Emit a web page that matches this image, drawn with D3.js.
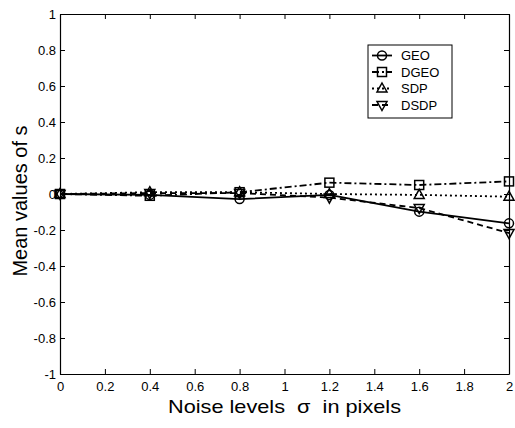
<!DOCTYPE html>
<html>
<head>
<meta charset="utf-8">
<script src="https://cdn.jsdelivr.net/npm/d3@7"></script>
<style>
  body { margin: 0; background: #fff; }
  svg text { font-family: "Liberation Sans", Arial, sans-serif; fill: #000; }
</style>
</head>
<body>
<svg id="chart" width="515" height="428"></svg>
<script>
// noise levels (x)
const noise = [0, 0.4, 0.8, 1.2, 1.6, 2]

// mean values of s per method
const geo  = [0, -0.005, -0.028, -0.005, -0.098, -0.163]
const dgeo = [0, -0.01, 0.01, 0.063, 0.05, 0.07]
const sdp  = [0, 0.01, 0.01, 0, -0.005, -0.015]
const dsdp = [0, 0.005, 0.005, -0.02, -0.078, -0.217]

const xTicks = [0, 0.2, 0.4, 0.6, 0.8, 1, 1.2, 1.4, 1.6, 1.8, 2]
const yTicks = [-1, -0.8, -0.6, -0.4, -0.2, 0, 0.2, 0.4, 0.6, 0.8, 1]

const series = [
    { name: 'GEO', values: geo, dash: null, marker: 'circle' },
    { name: 'DGEO', values: dgeo, dash: '7,3,2,3', marker: 'square' },
    { name: 'SDP', values: sdp, dash: '2,3', marker: 'up' },
    { name: 'DSDP', values: dsdp, dash: '6,4', marker: 'down' },
]

const margin = { top: 14, right: 6, bottom: 54, left: 60 }
const width = 515, height = 428
const w = width - margin.left - margin.right
const h = height - margin.top - margin.bottom

const svg = d3.select('#chart')
const g = svg.append('g').attr('transform', `translate(${margin.left},${margin.top})`)

const x = d3.scaleLinear().domain([0, 2]).range([0, w])
const y = d3.scaleLinear().domain([-1, 1]).range([h, 0])

const fmt = d => String(d)

// axes with inward ticks, box on all sides
const tl = 5
g.append('g').attr('transform', `translate(0,${h})`)
    .call(d3.axisBottom(x).tickValues(xTicks).tickFormat(fmt).tickSizeInner(-tl).tickSizeOuter(0).tickPadding(8))
g.append('g')
    .call(d3.axisTop(x).tickValues(xTicks).tickFormat('').tickSizeInner(-tl).tickSizeOuter(0))
g.append('g')
    .call(d3.axisLeft(y).tickValues(yTicks).tickFormat(fmt).tickSizeInner(-tl).tickSizeOuter(0).tickPadding(4))
g.append('g').attr('transform', `translate(${w},0)`)
    .call(d3.axisRight(y).tickValues(yTicks).tickFormat('').tickSizeInner(-tl).tickSizeOuter(0))

g.selectAll('.domain').attr('stroke', '#000').attr('stroke-width', 1.2)
g.selectAll('.tick line').attr('stroke', '#000')
g.selectAll('.tick text').attr('font-size', 13).attr('fill', '#000')

// marker drawing
function drawMarker(sel, type, cx, cy) {
    const s = 4.5
    if (type === 'circle') {
        sel.append('circle').attr('cx', cx).attr('cy', cy).attr('r', s)
    } else if (type === 'square') {
        sel.append('rect').attr('x', cx - s).attr('y', cy - s).attr('width', 2 * s).attr('height', 2 * s)
    } else if (type === 'up') {
        sel.append('path').attr('d', `M${cx},${cy - s - 1}L${cx + s + 0.5},${cy + s - 1}L${cx - s - 0.5},${cy + s - 1}Z`)
    } else {
        sel.append('path').attr('d', `M${cx},${cy + s + 1}L${cx + s + 0.5},${cy - s + 1}L${cx - s - 0.5},${cy - s + 1}Z`)
    }
}

const line = d3.line().x((d, i) => x(noise[i])).y(d => y(d))

series.forEach(s => {
    g.append('path')
        .datum(s.values)
        .attr('d', line)
        .attr('fill', 'none')
        .attr('stroke', '#000')
        .attr('stroke-width', 1.8)
        .attr('stroke-dasharray', s.dash)
    const mg = g.append('g').attr('fill', 'none').attr('stroke', '#000').attr('stroke-width', 1.5)
    s.values.forEach((v, i) => drawMarker(mg, s.marker, x(noise[i]), y(v)))
})

// legend
const lg = svg.append('g').attr('transform', 'translate(368,45)')
lg.append('rect').attr('width', 84).attr('height', 73)
    .attr('fill', '#fff').attr('stroke', '#000').attr('stroke-width', 1)
series.forEach((s, i) => {
    const yy = 10.5 + i * 16.5
    lg.append('line').attr('x1', 4).attr('x2', 24).attr('y1', yy).attr('y2', yy)
        .attr('stroke', '#000').attr('stroke-width', 1.8).attr('stroke-dasharray', s.dash)
    const mg = lg.append('g').attr('fill', 'none').attr('stroke', '#000').attr('stroke-width', 1.5)
    drawMarker(mg, s.marker, 14, yy)
    lg.append('text').attr('x', 33).attr('y', yy).attr('dy', '0.35em')
        .attr('font-size', 13).text(s.name)
})

// axis titles
svg.append('text')
    .attr('x', 168).attr('y', 413)
    .attr('font-size', 19)
    .attr('textLength', 233).attr('lengthAdjust', 'spacingAndGlyphs')
    .style('white-space', 'pre')
    .text('Noise levels  σ  in pixels')

svg.append('text')
    .attr('transform', `translate(27,201) rotate(-90)`)
    .attr('text-anchor', 'middle').attr('font-size', 20)
    .text('Mean values of s')
</script>
</body>
</html>
